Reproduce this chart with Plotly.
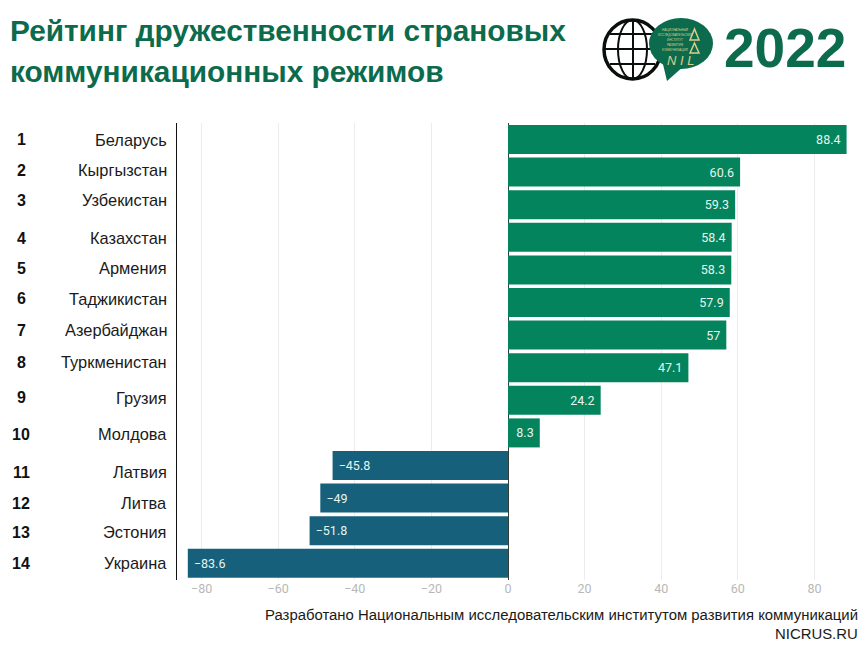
import plotly.graph_objects as go

countries = ["Беларусь","Кыргызстан","Узбекистан","Казахстан","Армения","Таджикистан","Азербайджан",
             "Туркменистан","Грузия","Молдова","Латвия","Литва","Эстония","Украина"]
values = [88.4,60.6,59.3,58.4,58.3,57.9,57,47.1,24.2,8.3,-45.8,-49,-51.8,-83.6]
ranks = list(range(1,15))
tick_vals = [-80,-60,-40,-20,0,20,40,60,80]
label_y_px = [140,170,200,238,268,299,330,362,398,434,472,503,532,563]

W,H = 865,648
GREEN="#04845c"; BLUE="#17607c"; DARK="#0b6b4c"; GOLD="#d8cf8a"
SANS="Liberation Sans"
def px(x): return x/W
def py(y): return 1-y/H

def bar_label(v):
    return f"{v}\u00a0" if v >= 0 else f"\u00a0\u2212{abs(v)}"

fig = go.Figure(go.Bar(
    y=countries, x=values, orientation="h",
    marker=dict(color=[GREEN if v>=0 else BLUE for v in values], line_width=0),
    text=[bar_label(v) for v in values],
    textposition="inside", insidetextanchor="end", textangle=0, constraintext="none",
    insidetextfont=dict(family="Roboto", size=12.5, color="#e8f4ee"),
    width=0.89, cliponaxis=False, hoverinfo="skip"))

ann=[]
def text(x,y,s,size,color="#111",anchor="left",family=SANS,bold=False):
    ann.append(dict(xref="paper",yref="paper",x=px(x),y=py(y),text=f"<b>{s}</b>" if bold else s,showarrow=False,
        xanchor=anchor,yanchor="middle",font=dict(family=family,size=size,color=color)))
for r,c,y in zip(ranks,countries,label_y_px):
    text(21,y,str(r),16,"#111","center",SANS,True)
    text(168.5,y,c,16.4,"#1a1a1a","right",SANS)
text(8,31,"Рейтинг дружественности страновых",29.8,DARK,"left",SANS,True)
text(8,71,"коммуникационных режимов",29.8,DARK,"left",SANS,True)
text(785,48,"2022",55,DARK,"center",SANS,True)
text(860,615,"Разработано Национальным исследовательским институтом развития коммуникаций",14.9,"#1a1a1a","right",SANS)
text(860,634,"NICRUS.RU",14.9,"#1a1a1a","right",SANS)
for ly,s in zip([30,35,40,45,50],["НАЦИОНАЛЬНЫЙ","ИССЛЕДОВАТЕЛЬСКИЙ","ИНСТИТУТ","РАЗВИТИЯ","КОММУНИКАЦИЙ"]):
    text(675,ly,s,3,GOLD,"center")
text(680,61,"<i>N I L</i>",13,GOLD,"center")

shapes=[]
def ell(x0,y0,x1,y1,line=None,fill=None,w=3):
    shapes.append(dict(type="circle",xref="paper",yref="paper",x0=px(x0),x1=px(x1),y0=py(y1),y1=py(y0),
        line=dict(color=line or "rgba(0,0,0,0)",width=w if line else 0),fillcolor=fill or "rgba(0,0,0,0)",layer="above"))
def seg(x0,y0,x1,y1,c="#0a0f0c",w=2):
    shapes.append(dict(type="line",xref="paper",yref="paper",x0=px(x0),x1=px(x1),y0=py(y0),y1=py(y1),line=dict(color=c,width=w),layer="above"))
ell(604,20,661,79,"#0a0f0c",None,3.5)
ell(618,20,647,79,"#0a0f0c",None,2)
seg(633,20,633,79); seg(604,49,661,49); seg(610,34,655,34); seg(610,64,655,64)
ell(649,18,713,69,None,DARK)
shapes.append(dict(type="path",xref="paper",yref="paper",layer="above",fillcolor=DARK,line_width=0,
    path=f"M {px(662)} {py(60)} L {px(667)} {py(81)} L {px(684)} {py(66)} Z"))
for (a,b) in [(29,40),(43,53)]:
    shapes.append(dict(type="path",xref="paper",yref="paper",layer="above",line=dict(color=GOLD,width=1.5),
        path=f"M {px(690)} {py(b)} L {px(694.5)} {py(a)} L {px(699)} {py(b)} Z"))

fig.update_layout(width=W,height=H,margin=dict(l=0,r=0,t=0,b=0),paper_bgcolor="white",plot_bgcolor="white",
    showlegend=False,bargap=0.11,annotations=ann,shapes=shapes,
    xaxis=dict(domain=[px(177),px(847)],range=[-86.42,88.51],tickvals=tick_vals,showgrid=True,gridcolor="#ececec",gridwidth=1,
        zeroline=True,zerolinecolor="#33403a",zerolinewidth=1,ticks="",
        tickfont=dict(family="Roboto",size=12.5,color="#b8b8b8"),showline=False),
    yaxis=dict(domain=[py(579.6),py(123.2)],autorange="reversed",showticklabels=False,ticks="",showgrid=False,zeroline=False,
        showline=True,linecolor="#111",linewidth=1))
fig.write_html("out.html",config={"displayModeBar":False},
    post_script="document.body.style.margin='0';document.documentElement.style.overflow='hidden';window.dispatchEvent(new Event('resize'));")
